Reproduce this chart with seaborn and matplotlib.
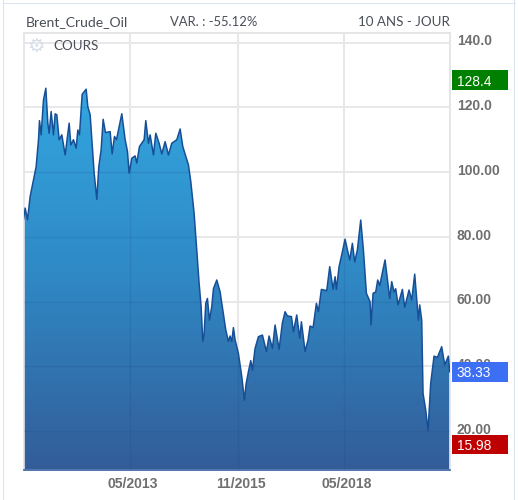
import numpy as np
import pandas as pd
import matplotlib
matplotlib.use("Agg")
import matplotlib.pyplot as plt
from matplotlib.patches import Rectangle
from matplotlib.transforms import blended_transform_factory, ScaledTranslation
from matplotlib.colors import LinearSegmentedColormap
import seaborn as sns

# Brent crude close, sampled at its turning points over ten years of sessions
sessions = [
    0, 10, 24, 40, 60, 76, 90, 96, 106, 120,
    134, 146, 154, 166, 180, 190, 200, 214, 230, 250,
    274, 284, 300, 316, 326, 336, 352, 376, 386, 400,
    410, 424, 440, 452, 466, 478, 492, 520, 532, 546,
    558, 590, 610, 624, 634, 650, 670, 680, 696, 724,
    734, 750, 760, 780, 794, 814, 830, 850, 870, 890,
    920, 940, 956, 990, 1004, 1024, 1040, 1054, 1066, 1076,
    1084, 1094, 1104, 1116, 1130, 1140, 1160, 1180, 1196, 1214,
    1230, 1240, 1250, 1260, 1270, 1290, 1310, 1326, 1336, 1350,
    1364, 1374, 1390, 1410, 1434, 1458, 1474, 1494, 1510, 1534,
    1554, 1570, 1584, 1608, 1620, 1640, 1658, 1668, 1690, 1708,
    1720, 1738, 1758, 1770, 1788, 1820, 1838, 1858, 1870, 1878,
    1894, 1914, 1930, 1944, 1958, 1974, 1988, 2004, 2024, 2040,
    2058, 2080, 2086, 2098, 2114, 2126, 2138, 2170, 2198, 2210,
    2224, 2234, 2248, 2274, 2288, 2314, 2330, 2348, 2370, 2378,
    2390, 2398, 2414, 2428, 2444, 2464, 2484, 2510, 2528, 2550,
    2558,
]
close = [
    85.3, 88.9, 85.3, 92.5, 97.6, 101.7, 110.0, 115.9, 111.5, 122.3,
    125.9, 115.1, 112.0, 118.7, 111.5, 118.0, 117.7, 110.0, 111.5, 105.3,
    115.1, 108.4, 110.0, 107.4, 113.0, 111.5, 124.0, 125.6, 120.2, 117.7,
    110.0, 99.7, 91.6, 101.7, 106.9, 116.3, 112.2, 112.5, 105.6, 111.0,
    110.0, 118.0, 110.0, 106.4, 99.7, 104.3, 105.0, 102.8, 107.9, 110.0,
    115.9, 108.9, 111.5, 105.3, 112.0, 108.9, 105.6, 109.4, 105.3, 108.9,
    110.0, 113.3, 107.9, 102.2, 97.1, 87.3, 76.0, 65.7, 58.5, 47.7,
    50.2, 59.5, 61.0, 54.3, 58.5, 64.0, 66.7, 63.0, 57.4, 51.3,
    47.7, 49.4, 47.7, 52.0, 48.2, 44.0, 36.9, 29.6, 34.6, 38.4,
    41.8, 38.9, 45.6, 49.2, 49.7, 44.6, 49.4, 45.6, 52.8, 45.3,
    53.5, 56.9, 55.6, 55.4, 50.7, 55.9, 48.7, 53.8, 44.6, 48.2,
    52.5, 52.0, 59.5, 56.9, 63.8, 63.4, 70.8, 63.8, 67.7, 63.8,
    70.8, 75.4, 79.3, 76.0, 72.9, 78.0, 72.3, 76.0, 85.2, 76.0,
    62.6, 60.0, 52.8, 62.6, 63.0, 66.7, 65.0, 72.9, 61.0, 66.2,
    63.0, 64.0, 59.0, 63.8, 58.3, 63.6, 60.5, 68.5, 54.3, 59.0,
    54.3, 31.7, 26.6, 20.2, 34.8, 43.2, 42.8, 46.1, 40.5, 43.2,
    38.33,
]

y_ticks = [140, 120, 100, 80, 60, 40, 20]
y_tick_labels = ["140.0", "120.0", "100.00", "80.00", "60.00", "40.00", "20.00"]
x_ticks = [640, 1286, 1924]
x_tick_labels = ["05/2013", "11/2015", "05/2018"]

high_value, last_value, low_value = 128.4, 38.33, 15.98
high_label, last_label, low_label = "128.4", "38.33", "15.98"

W, H = 518, 500
sns.set_theme(style="white")
plt.rcParams["font.family"] = ["Liberation Sans", "DejaVu Sans"]

df = pd.DataFrame({"session": sessions, "close": close})

fig = plt.figure(figsize=(W / 100, H / 100), dpi=100, facecolor="white")
left, right, top, bottom = 23.5, 449.7, 32.5, 469.5
ax = fig.add_axes([left / W, 1 - bottom / H, (right - left) / W, (bottom - top) / H])

# Card outline around the widget
for x0, y0, w, h in [(2.5, 0, 1.8, 500), (513.5, 0, 1.8, 500), (2.5, 2.5, 513, 1.2)]:
    fig.add_artist(Rectangle((x0 / W, 1 - (y0 + h) / H), w / W, h / H,
                             transform=fig.transFigure, color="#dbe2f0", lw=0))

ax.grid(True, color="#e6e6e8", lw=1.3, zorder=0)
ax.set_axisbelow(True)
for s in ax.spines.values():
    s.set_color("#e2e2e4")
    s.set_linewidth(1.2)
ax.spines["bottom"].set_color("#2f5c9c")

# Vertical gradient clipped to the area beneath the close
cmap = LinearSegmentedColormap.from_list("area", ["#335d99", "#2f88c4", "#33a6e0"])
grad = np.linspace(0, 1, 256).reshape(-1, 1)
area = ax.fill_between(df["session"], df["close"], 8.2, color="none", lw=0)
img = ax.imshow(grad, origin="lower", aspect="auto", cmap=cmap, zorder=2,
                extent=(0, 2558, 8.2, 126))
clip = area.get_paths()[0]
img.set_clip_path(clip, transform=ax.transData)

# Grid shows faintly through the fill
for t in y_ticks:
    l = ax.axhline(t, color="#123a70", alpha=0.13, lw=1, zorder=3)
    l.set_clip_path(clip, transform=ax.transData)
for t in x_ticks:
    l = ax.axvline(t, color="#123a70", alpha=0.13, lw=1, zorder=3)
    l.set_clip_path(clip, transform=ax.transData)

sns.lineplot(data=df, x="session", y="close", ax=ax, color="#174f97", lw=1.1,
             errorbar=None, estimator=None, zorder=4)
ax.set_xlabel("")
ax.set_ylabel("")
ax.set_xlim(0, 2558)
ax.set_ylim(8.2, 143.1)

ax.yaxis.tick_right()
ax.set_yticks(y_ticks)
ax.set_yticklabels(y_tick_labels, fontsize=10, fontweight="bold", color="#6f6f6f")
ax.set_xticks(x_ticks)
ax.set_xticklabels(x_tick_labels, fontsize=10.1, fontweight="bold", color="#6f6f6f")
ax.tick_params(axis="y", length=0, pad=5)
ax.tick_params(axis="x", length=0, pad=5.5)

# Axis text sits slightly off its gridline
for lab in ax.get_yticklabels():
    lab.set_transform(lab.get_transform() + ScaledTranslation(0, 2.7 / 100, fig.dpi_scale_trans))
for lab in ax.get_xticklabels():
    lab.set_transform(lab.get_transform() + ScaledTranslation(3 / 100, 0, fig.dpi_scale_trans))

# Value tags on the right: high, last, low
trans = blended_transform_factory(ax.transAxes, ax.transData)
tag_x0 = (452 - left) / (right - left)
tag_w = (507.7 - 452) / (right - left)
tag_h = 19.3 / ((bottom - top) / (143.1 - 8.2))
for val, lab, col in [(high_value, high_label, "#008000"),
                      (last_value, last_label, "#3d6ff5"),
                      (low_value, low_label, "#bf0000")]:
    ax.add_patch(Rectangle((tag_x0, val - tag_h / 2), tag_w, tag_h, transform=trans,
                           facecolor=col, edgecolor="none", clip_on=False, zorder=6))
    ax.text(tag_x0 + 4.7 / (right - left), val, lab, transform=trans, color="white",
            fontsize=9.9, va="center_baseline", ha="left", zorder=7, clip_on=False)

# Header row
head = dict(color="#4a4f57", family=["Lato", "DejaVu Sans"], va="center", ha="left")
fig.text(26 / W, 1 - 22.5 / H, "Brent_Crude_Oil", fontsize=10.1, **head)
fig.text(170 / W, 1 - 22.5 / H, "VAR. : -55.12%", fontsize=9.4, **head)
fig.text(358.5 / W, 1 - 22.5 / H, "10 ANS - JOUR", fontsize=9.6, **head)
fig.text(53 / W, 1 - 46 / H, "COURS", fontsize=9.6, **head)
fig.text(35.5 / W, 1 - 46 / H, "\u2699", color="#d6deea", fontsize=14,
         family="DejaVu Sans", va="center", ha="center")

fig.savefig("out.png", dpi=100, facecolor="white")
